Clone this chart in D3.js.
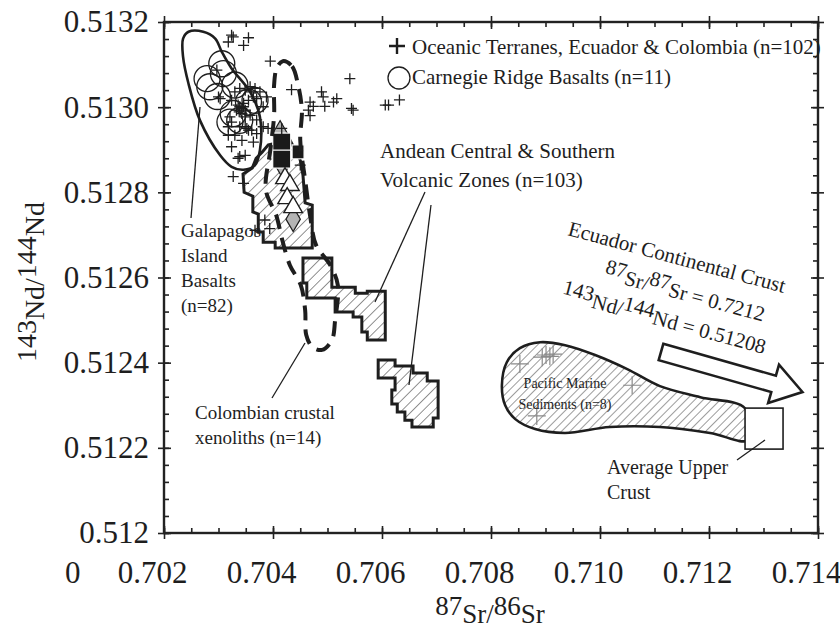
<!DOCTYPE html>
<head>
  <title>Sr-Nd isotopes</title>
  <meta charset="utf-8">
  <style>
    body { margin: 0; background: #fff; }
    text { font-family: "Liberation Serif", "DejaVu Serif", serif; fill: #1e1e1e; }
  </style>
</head>
<body>
<script src="https://cdn.jsdelivr.net/npm/d3@7"></script>
<script>
  // axis ticks
  var xTicks = [0.702, 0.704, 0.706, 0.708, 0.710, 0.712, 0.714];
  var xTickLabels = ["0.702", "0.704", "0.706", "0.708", "0.710", "0.712", "0.714"];
  var yTicks = [0.512, 0.5122, 0.5124, 0.5126, 0.5128, 0.5130, 0.5132];
  var yTickLabels = ["0.512", "0.5122", "0.5124", "0.5126", "0.5128", "0.5130", "0.5132"];

  // oceanic terranes, Ecuador & Colombia (crosses)
  var oceanic = [
    [0.70324, 0.513169], [0.70318, 0.513153], [0.70355, 0.513163], [0.70346, 0.513145], [0.70327, 0.513165],
    [0.70395, 0.513108], [0.70297, 0.513087], [0.70434, 0.513041], [0.70541, 0.513067],
    [0.70489, 0.513036], [0.70492, 0.513024], [0.70468, 0.513012], [0.70474, 0.513002], [0.70495, 0.513002],
    [0.70511, 0.513012], [0.70517, 0.51302], [0.70468, 0.51298], [0.70465, 0.512993], [0.70544, 0.512997],
    [0.70547, 0.512993], [0.70606, 0.513005], [0.70612, 0.513005], [0.70632, 0.513017],
    [0.70303, 0.51302], [0.70300, 0.513024], [0.70324, 0.513016], [0.70330, 0.513036], [0.70339, 0.513044],
    [0.70349, 0.51304], [0.70358, 0.513048], [0.70367, 0.513044], [0.70376, 0.513036], [0.70370, 0.51302],
    [0.70388, 0.513024], [0.70382, 0.513001], [0.70355, 0.513016], [0.70346, 0.513009], [0.70339, 0.513001],
    [0.70333, 0.512993], [0.70343, 0.512985], [0.70349, 0.512977], [0.70358, 0.512981], [0.70321, 0.512977],
    [0.70324, 0.512965], [0.70318, 0.512954], [0.70339, 0.512954], [0.70352, 0.51295], [0.70361, 0.512946],
    [0.70370, 0.512938], [0.70382, 0.512954], [0.70370, 0.51297], [0.70330, 0.512934], [0.70343, 0.512922],
    [0.70364, 0.512918], [0.70324, 0.512907], [0.70336, 0.51288], [0.70349, 0.512887], [0.70327, 0.512837],
    [0.70346, 0.512821], [0.70450, 0.512864], [0.70416, 0.51295], [0.70391, 0.51295], [0.70318, 0.512934],
    [0.70336, 0.513005], [0.70343, 0.512997], [0.70346, 0.513001], [0.70338, 0.512989], [0.70349, 0.512993],
    [0.70349, 0.512954], [0.70355, 0.512946], [0.70364, 0.513024], [0.70361, 0.513036], [0.70339, 0.512884],
    [0.70385, 0.512735], [0.70394, 0.512715], [0.70367, 0.512711]
  ];

  // Carnegie Ridge basalts (circles)
  var carnegie = [
    [0.70306, 0.513102], [0.70309, 0.513079], [0.70279, 0.513067], [0.70330, 0.513052], [0.70298, 0.513025],
    [0.70355, 0.513012], [0.70367, 0.513016], [0.70321, 0.512965], [0.70339, 0.512969], [0.70284, 0.513048],
    [0.70327, 0.512985]
  ];

  // Galapagos Island basalts field outline
  var galapagos = [
    [0.70235, 0.513161], [0.70245, 0.513177], [0.70272, 0.513177], [0.70294, 0.513161], [0.70306, 0.51313],
    [0.70324, 0.513091], [0.70358, 0.513036], [0.70376, 0.512977], [0.70376, 0.512899], [0.70367, 0.512864],
    [0.70346, 0.512853], [0.70324, 0.51286], [0.70303, 0.512887], [0.70266, 0.512969], [0.70245, 0.513055],
    [0.70235, 0.513118]
  ];

  // Andean central & southern volcanic zones (three stepped fields)
  var andeanA = [
    [0.70391, 0.512911], [0.70431, 0.512923], [0.70450, 0.512876], [0.70455, 0.51284], [0.70459, 0.512775],
    [0.70472, 0.51277], [0.70472, 0.512669], [0.70404, 0.512669], [0.70404, 0.512683], [0.70382, 0.512683],
    [0.70382, 0.512707], [0.70373, 0.512707], [0.70373, 0.512749], [0.70363, 0.512754], [0.70363, 0.512791],
    [0.70347, 0.5128], [0.70345, 0.512843], [0.70362, 0.512857], [0.70369, 0.51288], [0.70380, 0.512894]
  ];
  var andeanB = [
    [0.70455, 0.512646], [0.70508, 0.512646], [0.70508, 0.512577], [0.70551, 0.512577], [0.70551, 0.512563],
    [0.70573, 0.512563], [0.70573, 0.512568], [0.70606, 0.512568], [0.70606, 0.512453], [0.70573, 0.512453],
    [0.70573, 0.512472], [0.70563, 0.512472], [0.70563, 0.512507], [0.70547, 0.512507], [0.70547, 0.512519],
    [0.70514, 0.512519], [0.70514, 0.512552], [0.70462, 0.512552], [0.70462, 0.512587], [0.70455, 0.512587]
  ];
  var andeanC = [
    [0.70593, 0.512406], [0.70624, 0.512406], [0.70624, 0.512392], [0.70657, 0.512392], [0.70657, 0.512376],
    [0.70683, 0.512376], [0.70683, 0.512357], [0.70703, 0.512357], [0.70703, 0.51227], [0.70694, 0.51227],
    [0.70694, 0.512249], [0.70655, 0.512249], [0.70655, 0.512265], [0.70642, 0.512265], [0.70642, 0.512284],
    [0.70628, 0.512284], [0.70628, 0.512303], [0.70618, 0.512303], [0.70618, 0.512336], [0.70624, 0.512336],
    [0.70624, 0.512364], [0.70593, 0.512364]
  ];

  // other symbols inside the Andean field
  var blackSquares = [[0.70416, 0.512918], [0.70416, 0.512878], [0.70446, 0.512895]];
  var whiteTriangles = [[0.70422, 0.512833], [0.70431, 0.512817], [0.70426, 0.512786], [0.70437, 0.512765]];
  var greyDiamonds = [[0.70413, 0.512939], [0.70437, 0.512737], [0.70417, 0.512864]];

  // Colombian crustal xenoliths field (dashed)
  var colombian = [
    [0.70418, 0.513108], [0.70435, 0.513096], [0.70446, 0.513052], [0.70453, 0.512993], [0.70450, 0.512923],
    [0.70459, 0.512829], [0.70468, 0.512746], [0.70479, 0.512676], [0.70505, 0.512629], [0.70519, 0.512582],
    [0.70514, 0.5125], [0.70508, 0.512453], [0.70490, 0.51243], [0.70472, 0.512437], [0.70461, 0.512465],
    [0.70459, 0.512523], [0.70451, 0.512582], [0.70431, 0.512629], [0.70417, 0.512688], [0.70406, 0.512746],
    [0.70387, 0.512805], [0.70395, 0.512899], [0.70402, 0.512981], [0.70402, 0.513052], [0.70407, 0.513092]
  ];

  // Pacific marine sediments field and samples
  var sediments = [
    [0.70820, 0.512347], [0.70829, 0.512401], [0.70853, 0.512434], [0.70890, 0.512448], [0.70936, 0.512441],
    [0.70991, 0.512418], [0.71050, 0.512385], [0.71110, 0.512345], [0.71184, 0.512319], [0.71266, 0.512293],
    [0.71272, 0.512218], [0.71202, 0.512235], [0.71110, 0.512249], [0.71018, 0.512249], [0.70936, 0.512235],
    [0.70881, 0.512244], [0.70844, 0.512268], [0.70826, 0.5123]
  ];
  var sedimentSamples = [
    [0.70853, 0.512397], [0.70894, 0.512413], [0.70901, 0.512418], [0.70908, 0.512415], [0.70914, 0.51242],
    [0.71059, 0.512347], [0.70884, 0.512275]
  ];

  // average upper crust
  var upperCrust = [[0.71301, 0.512244]];

  var margin = { top: 22, right: 22, bottom: 95, left: 164 },
    width = 840 - margin.left - margin.right,
    height = 628 - margin.top - margin.bottom;

  var x = d3.scaleLinear().domain([0.702, 0.714]).range([0, width]);
  var y = d3.scaleLinear().domain([0.512, 0.5132]).range([height, 0]);

  var xMinor = d3.range(0, 25).map(function (i) { return 0.702 + i * 0.0005; });
  var yMinor = d3.range(0, 31).map(function (i) { return 0.512 + i * 0.00004; });

  var svg = d3.select("body").append("svg")
    .attr("width", 840)
    .attr("height", 628);

  var defs = svg.append("defs");

  // diagonal hatching for the fields
  function hatch(id, gap, w) {
    defs.append("pattern")
      .attr("id", id)
      .attr("patternUnits", "userSpaceOnUse")
      .attr("width", gap)
      .attr("height", gap)
      .attr("patternTransform", "rotate(45)")
      .append("line")
      .attr("x1", 0).attr("y1", 0)
      .attr("x2", 0).attr("y2", gap)
      .attr("stroke", "#222")
      .attr("stroke-width", w);
  }
  hatch("hatchA", 7.5, 1);
  hatch("hatchS", 6, 0.9);

  var g = svg.append("g")
    .attr("transform", "translate(" + margin.left + "," + margin.top + ")");

  // ---- axes: major ticks cross the frame, minor ticks point inward ----
  function styleAxis(sel) {
    sel.select(".domain").remove();
    sel.selectAll("line").attr("stroke", "#222").attr("stroke-width", 1.6);
    sel.attr("font-family", null).attr("font-size", null);
  }

  var axBottom = g.append("g").attr("transform", "translate(0," + height + ")");
  axBottom.append("g").attr("class", "xlab")
    .call(d3.axisBottom(x).tickValues(xTicks).tickSize(6).tickPadding(22)
    .tickFormat(function (d, i) { return xTickLabels[i]; })).call(styleAxis);
  axBottom.append("g").call(d3.axisBottom(x).tickValues(xTicks).tickSize(-7).tickFormat("")).call(styleAxis);
  axBottom.append("g").call(d3.axisBottom(x).tickValues(xMinor).tickSize(-5).tickFormat("")).call(styleAxis);

  var axTop = g.append("g");
  axTop.append("g").call(d3.axisTop(x).tickValues(xTicks).tickSize(6).tickFormat("")).call(styleAxis);
  axTop.append("g").call(d3.axisTop(x).tickValues(xTicks).tickSize(-7).tickFormat("")).call(styleAxis);
  axTop.append("g").call(d3.axisTop(x).tickValues(xMinor).tickSize(-5).tickFormat("")).call(styleAxis);

  var axLeft = g.append("g");
  axLeft.append("g").call(d3.axisLeft(y).tickValues(yTicks).tickSize(6).tickPadding(9)
    .tickFormat(function (d, i) { return yTickLabels[i]; })).call(styleAxis);
  axLeft.append("g").call(d3.axisLeft(y).tickValues(yTicks).tickSize(-7).tickFormat("")).call(styleAxis);
  axLeft.append("g").call(d3.axisLeft(y).tickValues(yMinor).tickSize(-5).tickFormat("")).call(styleAxis);

  var axRight = g.append("g").attr("transform", "translate(" + width + ",0)");
  axRight.append("g").call(d3.axisRight(y).tickValues(yTicks).tickSize(6).tickFormat("")).call(styleAxis);
  axRight.append("g").call(d3.axisRight(y).tickValues(yTicks).tickSize(-7).tickFormat("")).call(styleAxis);
  axRight.append("g").call(d3.axisRight(y).tickValues(yMinor).tickSize(-5).tickFormat("")).call(styleAxis);

  g.selectAll(".tick text").style("font-size", "31px").style("fill", "#1e1e1e");
  // the x labels sit a little left of their ticks in the original
  g.selectAll(".xlab .tick text").attr("dx", -12);

  // stray "0" under the y labels
  g.append("text")
    .attr("x", -99)
    .attr("y", height + 28)
    .attr("dy", "0.71em")
    .style("font-size", "31px")
    .text("0");

  // frame
  g.append("rect")
    .attr("width", width)
    .attr("height", height)
    .attr("fill", "none")
    .attr("stroke", "#222")
    .attr("stroke-width", 2.4);

  // ---- fields ----
  var linear = d3.line()
    .x(function (d) { return x(d[0]); })
    .y(function (d) { return y(d[1]); })
    .curve(d3.curveLinearClosed);

  var smooth = d3.line()
    .x(function (d) { return x(d[0]); })
    .y(function (d) { return y(d[1]); })
    .curve(d3.curveCatmullRomClosed.alpha(0.5));

  g.append("path")
    .datum(galapagos)
    .attr("d", smooth)
    .attr("fill", "none")
    .attr("stroke", "#1e1e1e")
    .attr("stroke-width", 2.6);

  g.selectAll(".andean")
    .data([andeanA, andeanB, andeanC])
    .enter().append("path")
    .attr("class", "andean")
    .attr("d", linear)
    .attr("fill", "url(#hatchA)")
    .attr("stroke", "#1e1e1e")
    .attr("stroke-width", 3)
    .attr("stroke-linejoin", "miter");

  g.append("path")
    .datum(sediments)
    .attr("d", smooth)
    .attr("fill", "url(#hatchS)")
    .attr("stroke", "#1e1e1e")
    .attr("stroke-width", 2.6);

  // grey diamonds
  g.selectAll(".diamond")
    .data(greyDiamonds)
    .enter().append("path")
    .attr("class", "diamond")
    .attr("transform", function (d) { return "translate(" + x(d[0]) + "," + y(d[1]) + ")"; })
    .attr("d", d3.symbol(d3.symbolDiamond, 180))
    .attr("fill", "#b4b4b4")
    .attr("stroke", "#1e1e1e")
    .attr("stroke-width", 1.2);

  // black squares
  g.selectAll(".square")
    .data(blackSquares)
    .enter().append("rect")
    .attr("class", "square")
    .attr("x", function (d, i) { return x(d[0]) - (i == 2 ? 6 : 9); })
    .attr("y", function (d, i) { return y(d[1]) - (i == 2 ? 7 : 9); })
    .attr("width", function (d, i) { return i == 2 ? 12 : 18; })
    .attr("height", function (d, i) { return i == 2 ? 14 : 18; })
    .attr("fill", "#1a1a1a")
    .attr("stroke", "#fff")
    .attr("stroke-width", 1.2);

  // white triangles
  g.selectAll(".tri")
    .data(whiteTriangles)
    .enter().append("path")
    .attr("class", "tri")
    .attr("transform", function (d) { return "translate(" + x(d[0]) + "," + y(d[1]) + ")"; })
    .attr("d", d3.symbol(d3.symbolTriangle, 150))
    .attr("fill", "#fff")
    .attr("stroke", "#1e1e1e")
    .attr("stroke-width", 1.4);

  // Colombian xenoliths, thick dashes
  g.append("path")
    .datum(colombian)
    .attr("d", smooth)
    .attr("fill", "none")
    .attr("stroke", "#1e1e1e")
    .attr("stroke-width", 4)
    .attr("stroke-dasharray", "15,9");

  // Carnegie Ridge circles
  g.selectAll(".carnegie")
    .data(carnegie)
    .enter().append("circle")
    .attr("class", "carnegie")
    .attr("cx", function (d) { return x(d[0]); })
    .attr("cy", function (d) { return y(d[1]); })
    .attr("r", 13)
    .attr("fill", "none")
    .attr("stroke", "#1e1e1e")
    .attr("stroke-width", 1.3);

  // plus-sign marker
  function plus(sel, size, color, w) {
    sel.attr("d", function () {
      return "M" + (-size) + ",0H" + size + "M0," + (-size) + "V" + size;
    })
      .attr("stroke", color)
      .attr("stroke-width", w)
      .attr("fill", "none");
  }

  g.selectAll(".oceanic")
    .data(oceanic)
    .enter().append("path")
    .attr("class", "oceanic")
    .attr("transform", function (d) { return "translate(" + x(d[0]) + "," + y(d[1]) + ")"; })
    .call(plus, 5.5, "#1e1e1e", 1.3);

  g.selectAll(".sed")
    .data(sedimentSamples)
    .enter().append("path")
    .attr("class", "sed")
    .attr("transform", function (d) { return "translate(" + x(d[0]) + "," + y(d[1]) + ")"; })
    .call(plus, 9, "#8a8a8a", 1.2);

  // average upper crust square
  g.selectAll(".crust")
    .data(upperCrust)
    .enter().append("rect")
    .attr("class", "crust")
    .attr("x", function (d) { return x(d[0]) - 19; })
    .attr("y", function (d) { return y(d[1]) - 21; })
    .attr("width", 38)
    .attr("height", 41)
    .attr("fill", "#fff")
    .attr("stroke", "#1e1e1e")
    .attr("stroke-width", 1.6);

  // ---- annotations (page pixels) ----
  var ann = svg.append("g");

  function label(px, py, lines, size, lh, anchor) {
    var t = ann.append("text")
      .attr("x", px)
      .attr("y", py)
      .attr("text-anchor", anchor || "start")
      .style("font-size", size + "px");
    lines.forEach(function (s, i) {
      t.append("tspan").attr("x", px).attr("dy", i == 0 ? 0 : lh).text(s);
    });
  }

  // isotope ratio text: numbers raised, element names on the baseline
  function iso(sel, parts) {
    var up = false;
    parts.forEach(function (p) {
      var raise = /^[0-9]+$/.test(p);
      var ts = sel.append("tspan").text(p);
      if (raise && !up) { ts.attr("dy", "-0.3em"); up = true; }
      else if (!raise && up) { ts.attr("dy", "0.3em"); up = false; }
    });
  }

  function seg(x1, y1, x2, y2) {
    ann.append("line")
      .attr("x1", x1).attr("y1", y1).attr("x2", x2).attr("y2", y2)
      .attr("stroke", "#1e1e1e")
      .attr("stroke-width", 1.3);
  }

  label(380, 158, ["Andean Central & Southern", "Volcanic Zones (n=103)"], 21, 29);
  seg(425, 192, 375, 302);
  seg(431, 205, 409, 385);

  label(181, 237, ["Galapagos", "Island", "Basalts", "(n=82)"], 19, 25);
  seg(191, 218, 200, 107);

  label(195, 419, ["Colombian crustal", "xenoliths (n=14)"], 19, 25);
  seg(272, 398, 305, 343);

  label(565, 388, ["Pacific Marine", "Sediments (n=8)"], 14, 21, "middle");

  label(607, 474, ["Average Upper", "Crust"], 20, 25);
  seg(737, 460, 765, 440);

  // legend
  ann.append("path")
    .attr("transform", "translate(397,46)")
    .call(plus, 8, "#1e1e1e", 2.4);
  ann.append("text").attr("x", 412).attr("y", 54).style("font-size", "21px")
    .text("Oceanic Terranes, Ecuador & Colombia (n=102)");
  ann.append("circle").attr("cx", 399).attr("cy", 78).attr("r", 11)
    .attr("fill", "none").attr("stroke", "#1e1e1e").attr("stroke-width", 1.3);
  ann.append("text").attr("x", 412).attr("y", 84).style("font-size", "21px")
    .text("Carnegie Ridge Basalts (n=11)");

  // continental crust note, tilted
  var note = ann.append("g").attr("transform", "translate(567,235) rotate(15)");
  note.append("text").style("font-size", "21px").text("Ecuador Continental Crust");
  note.append("text").attr("x", 46).attr("y", 33).style("font-size", "21px")
    .call(iso, ["87", "Sr/", "87", "Sr = 0.7212"]);
  note.append("text").attr("x", 10).attr("y", 64).style("font-size", "21px")
    .call(iso, ["143", "Nd/", "144", "Nd = 0.51208"]);

  // outlined arrow toward the crust end member
  var arrow = ann.append("g").attr("transform", "translate(661,352) rotate(15.8)");
  arrow.append("path")
    .attr("d", "M0,-8.5 L117,-8.5 L117,-20 L147,0 L117,20 L117,8.5 L0,8.5 Z")
    .attr("fill", "#fff")
    .attr("stroke", "#1e1e1e")
    .attr("stroke-width", 2.6);

  // axis titles
  svg.append("text")
    .attr("x", 490)
    .attr("y", 623)
    .attr("text-anchor", "middle")
    .style("font-size", "27px")
    .call(iso, ["87", "Sr/", "86", "Sr"]);

  svg.append("text")
    .attr("transform", "translate(44,282) rotate(-90)")
    .attr("text-anchor", "middle")
    .style("font-size", "28px")
    .call(iso, ["143", "Nd/", "144", "Nd"]);
</script>
</body>
